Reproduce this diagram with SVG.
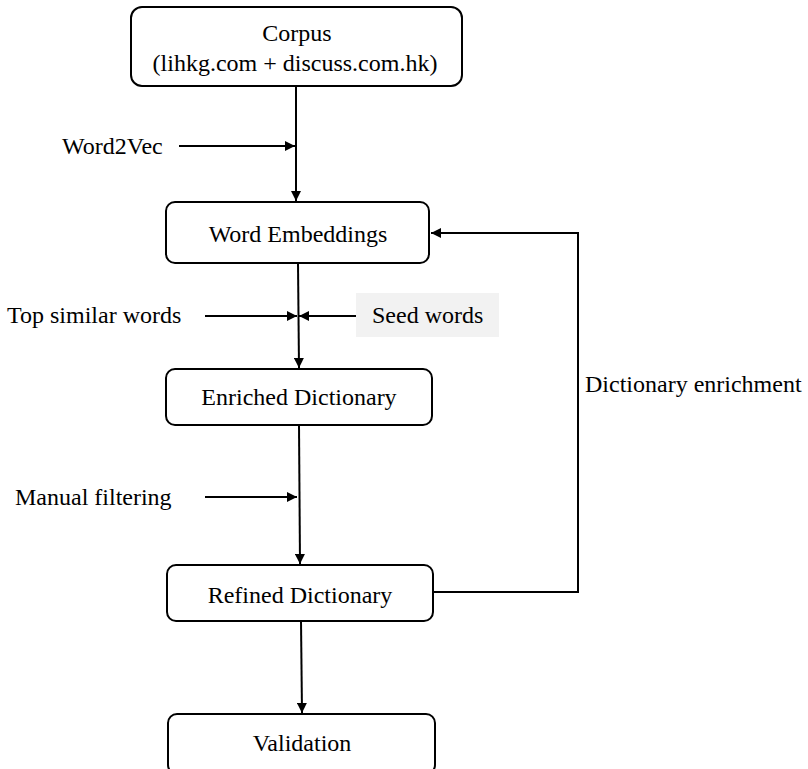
<svg xmlns="http://www.w3.org/2000/svg" width="808" height="769" viewBox="0 0 808 769">
<style>
  .box { fill: #ffffff; stroke: #000000; stroke-width: 2; }
  .lbl { font-family: "Liberation Serif", "Times New Roman", serif; font-size: 24px; fill: #000000; }
  .mid { text-anchor: middle; }
  .edge { fill: none; stroke: #000000; stroke-width: 2; marker-end: url(#arrow); }
  .plain { fill: none; stroke: #000000; stroke-width: 2; }
</style>
<defs>
  <marker id="arrow" viewBox="0 0 10 10" refX="10" refY="5" markerWidth="10" markerHeight="10" markerUnits="userSpaceOnUse" orient="auto">
    <path d="M0,0 L10,5 L0,10 Z" fill="#000000"/>
  </marker>
</defs>
<rect width="808" height="769" fill="#ffffff"/>

<g id="connectors">
  <path class="edge" d="M296,86 L296,201"/>
  <path class="edge" d="M179,146 L295,146"/>
  <path class="edge" d="M298,263 L299,368"/>
  <path class="edge" d="M205,316 L297,316"/>
  <path class="edge" d="M356,316 L299,316"/>
  <path class="edge" d="M299,425 L300,564"/>
  <path class="edge" d="M205,497 L297,497"/>
  <path class="edge" d="M301,621 L302,713"/>
  <path class="edge" d="M433,592 L578,592 L578,233 L431,233"/>
</g>

<g id="corpus">
  <rect class="box" x="131" y="7" width="331" height="79" rx="11"/>
  <text class="lbl mid" x="297" y="41">Corpus</text>
  <text class="lbl mid" x="295" y="71">(lihkg.com + discuss.com.hk)</text>
</g>
<g id="word2vec">
  <text class="lbl" x="62" y="154">Word2Vec</text>
</g>
<g id="word-embeddings">
  <rect class="box" x="166" y="202" width="263" height="61" rx="9"/>
  <text class="lbl mid" x="298" y="242">Word Embeddings</text>
</g>
<g id="top-similar-words">
  <text class="lbl" x="7" y="323">Top similar words</text>
</g>
<g id="seed-words">
  <rect x="356" y="293" width="143" height="44" fill="#f2f2f2"/>
  <text class="lbl" x="372" y="323">Seed words</text>
</g>
<g id="enriched-dictionary">
  <rect class="box" x="166" y="369" width="266" height="56" rx="9"/>
  <text class="lbl mid" x="299" y="405">Enriched Dictionary</text>
</g>
<g id="manual-filtering">
  <text class="lbl" x="15" y="505">Manual filtering</text>
</g>
<g id="refined-dictionary">
  <rect class="box" x="167" y="565" width="266" height="56" rx="9"/>
  <text class="lbl mid" x="300" y="603">Refined Dictionary</text>
</g>
<g id="dictionary-enrichment">
  <text class="lbl" x="585" y="392">Dictionary enrichment</text>
</g>
<g id="validation">
  <rect class="box" x="168" y="714" width="267" height="60" rx="9"/>
  <text class="lbl mid" x="302" y="751">Validation</text>
</g>
</svg>
